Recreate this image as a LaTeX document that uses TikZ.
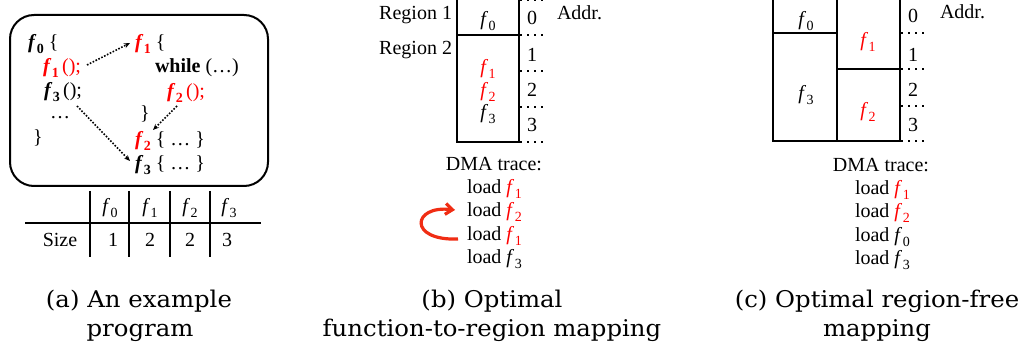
\documentclass[tikz,border=0pt]{standalone}
\usepackage{fontspec}
\setmainfont{Liberation Serif}
\newfontfamily\capfont[FakeStretch=1.06]{DejaVu Serif}
\usetikzlibrary{arrows.meta}
\definecolor{fred}{RGB}{255,0,0}
\definecolor{arrred}{RGB}{240,45,20}
\newcommand\ff[1]{\textit{f}\kern0.5pt\raisebox{-4.5pt}{\fontsize{14}{14}\selectfont #1}}
\newcommand\bff[1]{\textbf{\textit{f}\kern0.5pt\raisebox{-4.5pt}{\fontsize{14}{14}\selectfont #1}}}
\begin{document}
\begin{tikzpicture}[x=1pt,y=-1pt,
  every node/.style={inner sep=0pt,outer sep=0pt},
  txt/.style={font=\fontsize{20}{20}\selectfont,anchor=base west},
  ctxt/.style={font=\fontsize{20}{20}\selectfont,anchor=base},
  capt/.style={font=\capfont\fontsize{23}{23}\selectfont,anchor=base},
  frm/.style={draw,line width=2pt},
  rulel/.style={line width=2pt},
  dotl/.style={line width=1.5pt,dash pattern=on 1.5pt off 5.5pt},
  callarr/.style={line width=1.6pt,dash pattern=on 1.6pt off 1.6pt,-{Stealth[length=6pt,width=5pt]}},
  looparr/.style={arrred,line width=3.2pt,-{Straight Barb[length=7pt,width=11pt]}}]
\useasboundingbox (0,0) rectangle (1025,347);

% ---------- (a) ----------
\node[frm,rounded corners=24pt,minimum width=258pt,minimum height=171pt] (prog) at (139,100.5) {};
\node[txt] (l0) at (28,49) {\bff{0} \{};
\node[txt,text=fred] (l1) at (43,73) {\bff{1}\,();};
\node[txt] (l3) at (44,97) {\bff{3}\,();};
\node[txt] (ldots) at (50,119) {\dots};
\node[txt] (lend) at (33,144) {\}};
\node[txt] (r0) at (135,49) {\textcolor{fred}{\bff{1}} \{};
\node[txt] (r1) at (155,73) {\textbf{while} (\dots)};
\node[txt,text=fred] (r2) at (167,98) {\bff{2}\,();};
\node[txt] (r3) at (140,120) {\}};
\node[txt] (r4) at (135,146) {\textcolor{fred}{\bff{2}} \{ \dots\ \}};
\node[txt] (r5) at (135,170) {\bff{3} \{ \dots\ \}};
\coordinate (c1s) at (87,65);  \coordinate (c1e) at (130,43);
\coordinate (c2s) at (177,106); \coordinate (c2e) at (153,130);
\coordinate (c3s) at (77,106);  \coordinate (c3e) at (130,161);
\draw[callarr] (c1s) -- (c1e);
\draw[callarr] (c2s) -- (c2e);
\draw[callarr] (c3s) -- (c3e);

% size table
\draw[rulel] (25,223) -- (261,223);
\foreach \x in {90,129,170,210} \draw[rulel] (\x,191) -- (\x,257);
\node[ctxt] (h0) at (110,213) {\ff{0}};
\node[ctxt] (h1) at (150,213) {\ff{1}};
\node[ctxt] (h2) at (190,213) {\ff{2}};
\node[ctxt] (h3) at (229,213) {\ff{3}};
\node[ctxt] (sz) at (60,247) {Size};
\node[ctxt] (s0) at (113,247) {1};
\node[ctxt] (s1) at (150,247) {2};
\node[ctxt] (s2) at (190,247) {2};
\node[ctxt] (s3) at (227,247) {3};
\node[capt] (capa1) at (139,308) {(a) An example};
\node[capt] (capa2) at (140,336) {program};

% ---------- (b) ----------
\draw[rulel] (457,-3) rectangle (519,142);
\draw[rulel] (457,35) -- (519,35);
\foreach \y in {0,35,71,107,142} \draw[dotl] (520,\y) -- (544,\y);
\node[txt,anchor=base east] (reg1) at (452,20) {Region 1};
\node[txt,anchor=base east] (reg2) at (452,55) {Region 2};
\node[ctxt] (bf0) at (488,26) {\ff{0}};
\node[ctxt,text=fred] (bf1) at (488,74) {\ff{1}};
\node[ctxt,text=fred] (bf2) at (488,97) {\ff{2}};
\node[ctxt] (bf3) at (488,119) {\ff{3}};
\node[ctxt] (ba0) at (532,25) {0};
\node[ctxt] (ba1) at (532,62) {1};
\node[ctxt] (ba2) at (532,97) {2};
\node[ctxt] (ba3) at (532,132) {3};
\node[txt] (baddr) at (557,20) {Addr.};
\node[ctxt] (bdma) at (494,171) {DMA trace:};
\node[txt] (bl1) at (467,194) {load \textcolor{fred}{\ff{1}}};
\node[txt] (bl2) at (467,217) {load \textcolor{fred}{\ff{2}}};
\node[txt] (bl3) at (467,241) {load \textcolor{fred}{\ff{1}}};
\node[txt] (bl4) at (467,264) {load \ff{3}};
\coordinate (loops) at (458,239);
\coordinate (loope) at (455,210);
\draw[looparr] (loops) .. controls (408,241) and (412,205) .. (loope);
\node[capt] (capb1) at (492,308) {(b) Optimal};
\node[capt] (capb2) at (492,336) {function-to-region mapping};

% ---------- (c) ----------
\draw[rulel] (773,-3) rectangle (900,141);
\draw[rulel] (837,-3) -- (837,141);
\draw[rulel] (773,33) -- (837,33);
\draw[rulel] (837,69) -- (900,69);
\foreach \y in {33,69,106,141} \draw[dotl] (901,\y) -- (925,\y);
\node[ctxt] (cf0) at (806,26) {\ff{0}};
\node[ctxt] (cf3) at (806,100) {\ff{3}};
\node[ctxt,text=fred] (cf1) at (868,47) {\ff{1}};
\node[ctxt,text=fred] (cf2) at (868,117) {\ff{2}};
\node[ctxt] (ca0) at (913,23) {0};
\node[ctxt] (ca1) at (913,62) {1};
\node[ctxt] (ca2) at (913,97) {2};
\node[ctxt] (ca3) at (913,132) {3};
\node[txt] (caddr) at (940,19) {Addr.};
\node[ctxt] (cdma) at (881,172) {DMA trace:};
\node[txt] (cl1) at (855,195) {load \textcolor{fred}{\ff{1}}};
\node[txt] (cl2) at (855,218) {load \textcolor{fred}{\ff{2}}};
\node[txt] (cl3) at (855,242) {load \ff{0}};
\node[txt] (cl4) at (855,265) {load \ff{3}};
\node[capt] (capc1) at (877,308) {(c) Optimal region-free};
\node[capt] (capc2) at (877,336) {mapping};
\end{tikzpicture}
\end{document}
